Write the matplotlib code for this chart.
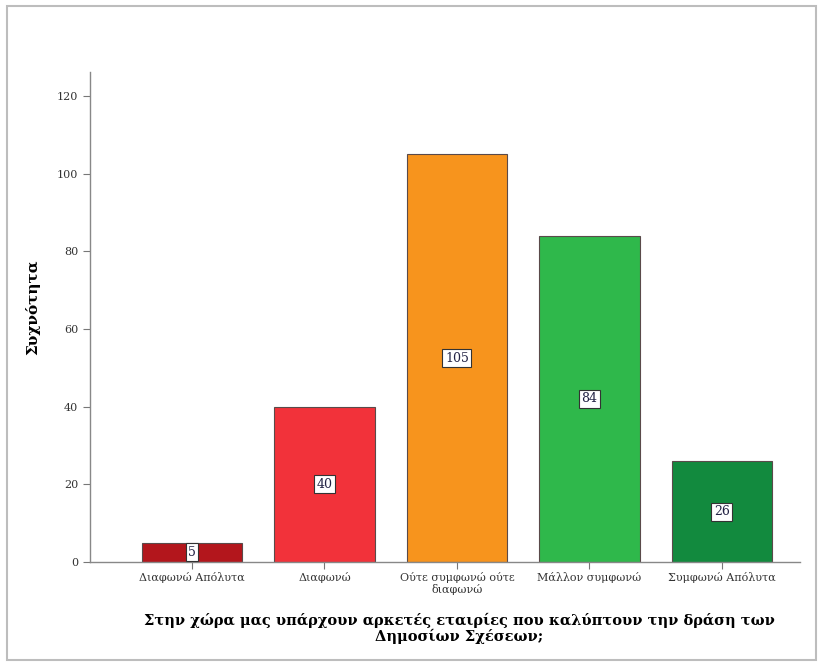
import matplotlib
matplotlib.use("Agg")
import matplotlib.pyplot as plt
from matplotlib.patches import Rectangle

categories = ["Διαφωνώ Απόλυτα", "Διαφωνώ", "Ούτε συμφωνώ ούτε\nδιαφωνώ",
              "Μάλλον συμφωνώ", "Συμφωνώ Απόλυτα"]
counts = [5, 40, 105, 84, 26]
bar_colors = ["#b3161c", "#f2323a", "#f7941d", "#2fb84b", "#128a3e"]
y_ticks = [0, 20, 40, 60, 80, 100, 120]

plt.rcParams["font.family"] = ["DejaVu Serif"]

fig = plt.figure(figsize=(8.23, 6.66), dpi=100)
fig.patch.set_facecolor("white")

# light grey frame around the whole chart
fig.patches.append(Rectangle((7 / 823, 6 / 666), 809 / 823, 654 / 666,
                             transform=fig.transFigure, fill=False,
                             edgecolor="#bdbdbd", linewidth=1.5))

ax = fig.add_axes([90 / 823, 1 - 562 / 666, 710 / 823, 490 / 666])
x = list(range(len(categories)))
bars = ax.bar(x, counts, width=0.76, color=bar_colors,
              edgecolor="#5a4a4a", linewidth=0.8, zorder=2)

for xi, v in zip(x, counts):
    ax.text(xi, v / 2, str(v), ha="center", va="center", fontsize=9,
            color="#222244", zorder=3,
            bbox=dict(boxstyle="square,pad=0.2", facecolor="white",
                      edgecolor="#333333", linewidth=0.8))

ax.set_xlim(-0.77, 4.59)
ax.set_ylim(0, 126.2)
ax.set_yticks(y_ticks)
ax.set_yticklabels([str(t) for t in y_ticks], fontsize=8, color="#333333")
ax.set_xticks(x)
ax.set_xticklabels(categories, fontsize=8, color="#333333", linespacing=1.1)
ax.tick_params(axis="both", length=5, color="#777777", width=0.8)
ax.tick_params(axis="x", pad=2)

for side in ("top", "right"):
    ax.spines[side].set_visible(False)
for side in ("left", "bottom"):
    ax.spines[side].set_color("#888888")
    ax.spines[side].set_linewidth(1.0)

ax.set_ylabel("Συχνότητα", fontsize=11, fontweight="bold")
ax.yaxis.set_label_coords(-0.07, 0.52)
ax.set_xlabel("Στην χώρα μας υπάρχουν αρκετές εταιρίες που καλύπτουν την δράση των\n"
              "Δημοσίων Σχέσεων;", fontsize=10.5, fontweight="bold",
              linespacing=1.1)
ax.xaxis.set_label_coords(0.52, -0.103)

fig.savefig("out.png", dpi=100, facecolor="white")
